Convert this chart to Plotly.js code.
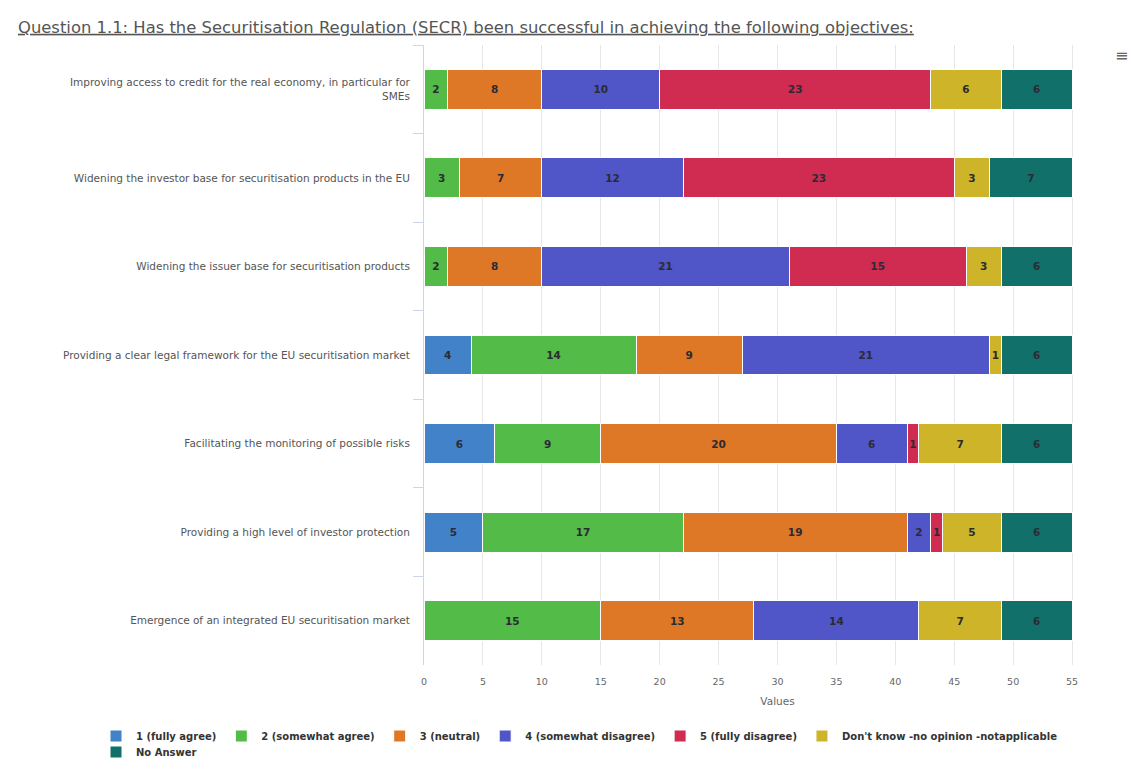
<!DOCTYPE html>
<html>
<head>
<meta charset="utf-8">
<script src="https://cdn.plot.ly/plotly-3.0.1.min.js"></script>
<style>
  html, body { margin: 0; padding: 0; background: #ffffff; overflow: hidden; }
  #chart { width: 1131px; height: 779px; }
</style>
</head>
<body>
<div id="chart"></div>
<script>
// ---- Data ----
const categories = [
  "Improving access to credit for the real economy, in particular for<br>SMEs",
  "Widening the investor base for securitisation products in the EU",
  "Widening the issuer base for securitisation products",
  "Providing a clear legal framework for the EU securitisation market",
  "Facilitating the monitoring of possible risks",
  "Providing a high level of investor protection",
  "Emergence of an integrated EU securitisation market"
];

const seriesNames = [
  "1 (fully agree)",
  "2 (somewhat agree)",
  "3 (neutral)",
  "4 (somewhat disagree)",
  "5 (fully disagree)",
  "Don't know -no opinion -notapplicable",
  "No Answer"
];

const fullyAgree        = [0, 0, 0, 4, 6, 5, 0];
const somewhatAgree     = [2, 3, 2, 14, 9, 17, 15];
const neutral           = [8, 7, 8, 9, 20, 19, 13];
const somewhatDisagree  = [10, 12, 21, 21, 6, 2, 14];
const fullyDisagree     = [23, 23, 15, 0, 1, 1, 0];
const dontKnow          = [6, 3, 3, 1, 7, 5, 7];
const noAnswer          = [6, 7, 6, 6, 6, 6, 6];

const xTickValues = [0, 5, 10, 15, 20, 25, 30, 35, 40, 45, 50, 55, 60];

// ---- Styles ----
const seriesValues = [fullyAgree, somewhatAgree, neutral, somewhatDisagree, fullyDisagree, dontKnow, noAnswer];
const seriesColors = ["#4282c8", "#53bb47", "#de7826", "#5055c8", "#d02b50", "#cdb428", "#12706b"];

const traces = seriesValues.map((vals, i) => ({
  type: "bar",
  orientation: "h",
  name: seriesNames[i],
  y: categories,
  x: vals,
  text: vals.map(v => (v ? String(v) : "")),
  textposition: "inside",
  insidetextanchor: "middle",
  constraintext: "none",
  textfont: { family: "DejaVu Sans", size: 10.5, color: "#2b2b33", weight: "bold" },
  marker: { color: seriesColors[i], line: { color: "#ffffff", width: 1 } },
  legend: i === 6 ? "legend2" : "legend",
  hoverinfo: "x+name"
}));

const legendFont = { family: "DejaVu Sans", size: 10, color: "#333333", weight: "bold" };
const legendX = (96 - 424) / 707;

const layout = {
  width: 1131,
  height: 779,
  paper_bgcolor: "#ffffff",
  plot_bgcolor: "#ffffff",
  barmode: "stack",
  bargap: 0.55,
  margin: { l: 424, r: 0, t: 45, b: 114 },
  title: {
    text: "<u>Question 1.1: Has the Securitisation Regulation (SECR) been successful in achieving the following objectives:</u>",
    font: { family: "DejaVu Sans", size: 16.4, color: "#555555" },
    xref: "container", yref: "container",
    x: 18 / 1131, xanchor: "left",
    y: 1 - 27 / 779, yanchor: "middle"
  },
  xaxis: {
    range: [0, 60],
    tickvals: xTickValues,
    ticktext: xTickValues.map(String),
    showgrid: true,
    gridcolor: "#e6e6e6",
    gridwidth: 1,
    zeroline: false,
    showline: false,
    ticks: "",
    ticklabelstandoff: 9,
    tickfont: { family: "DejaVu Sans", size: 9.5, color: "#666666" },
    title: { text: "Values", font: { family: "DejaVu Sans", size: 10.5, color: "#666666" }, standoff: 12 },
    fixedrange: true
  },
  yaxis: {
    type: "category",
    autorange: "reversed",
    showgrid: false,
    showline: true,
    linecolor: "#ccd6eb",
    linewidth: 1,
    ticks: "outside",
    tickson: "boundaries",
    ticklen: 10,
    tickcolor: "#ccd6eb",
    ticklabelstandoff: 11,
    tickfont: { family: "DejaVu Sans", size: 10.5, color: "#555555" },
    fixedrange: true
  },
  legend: {
    orientation: "h",
    xref: "paper", yref: "paper",
    x: legendX, xanchor: "left",
    y: (665 - 736) / 620, yanchor: "middle",
    font: legendFont,
    traceorder: "normal",
    itemclick: false, itemdoubleclick: false,
    bgcolor: "rgba(0,0,0,0)"
  },
  legend2: {
    orientation: "h",
    xref: "paper", yref: "paper",
    x: legendX, xanchor: "left",
    y: (665 - 752) / 620, yanchor: "middle",
    font: legendFont,
    itemclick: false, itemdoubleclick: false,
    bgcolor: "rgba(0,0,0,0)"
  },
  annotations: [{
    text: "≡",
    xref: "paper", yref: "paper",
    x: (1121 - 424) / 707, y: (665 - 56) / 620,
    xanchor: "center", yanchor: "middle",
    showarrow: false,
    font: { family: "DejaVu Sans", size: 16, color: "#666666" }
  }],
  showlegend: true
};

Plotly.newPlot("chart", traces, layout, { displayModeBar: false, responsive: false });
</script>
</body>
</html>
